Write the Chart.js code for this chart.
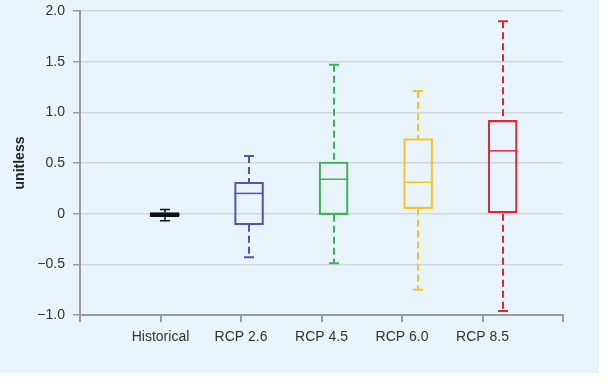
<!DOCTYPE html>
<html>
<head>
<meta charset="utf-8">
<script src="https://cdn.jsdelivr.net/npm/chart.js@4"></script>
<style>
  html, body { margin: 0; padding: 0; background: #ffffff; }
  #bg { position: absolute; left: 0; top: 0; width: 599px; height: 373px; background: #e8f4fc; }
  #wrap { position: absolute; left: 0; top: 0; width: 608px; height: 384px; }
</style>
</head>
<body>
<div id="bg"></div>
<div id="wrap"><canvas id="boxChart" width="608" height="384"></canvas></div>
<script>
// categories and box statistics
const categories = ["Historical", "RCP 2.6", "RCP 4.5", "RCP 6.0", "RCP 8.5"];
const boxPos = [1.05, 2.1, 3.15, 4.2, 5.25];
const whiskerLow = [-0.07, -0.43, -0.49, -0.75, -0.96];
const q1 = [-0.03, -0.11, -0.01, 0.05, 0.0];
const median = [-0.01, 0.20, 0.34, 0.31, 0.62];
const q3 = [0.01, 0.31, 0.51, 0.74, 0.92];
const whiskerHigh = [0.04, 0.57, 1.47, 1.21, 1.90];
const yTicks = [-1.0, -0.5, 0, 0.5, 1.0, 1.5, 2.0];

const colors = ["#111111", "#4c5aa8", "#3fb257", "#f6c52c", "#df2433"];

const fontFamily = "'Liberation Sans', Arial, sans-serif";

// whiskers, caps and medians
const boxExtras = {
    id: "boxExtras",
    afterDatasetsDraw(chart) {
        const ctx = chart.ctx;
        const x = chart.scales.x, y = chart.scales.y;
        const half = 14.5, cap = 5;
        ctx.save();
        boxPos.forEach((p, i) => {
            const cx = Math.round(x.getPixelForValue(p));
            const hist = i === 0;
            ctx.strokeStyle = colors[i];
            ctx.lineWidth = hist ? 1.5 : 2;
            // whiskers
            ctx.setLineDash(hist ? [] : [7, 4]);
            ctx.beginPath();
            ctx.moveTo(cx, y.getPixelForValue(whiskerHigh[i]));
            ctx.lineTo(cx, y.getPixelForValue(q3[i]));
            ctx.moveTo(cx, y.getPixelForValue(q1[i]));
            ctx.lineTo(cx, y.getPixelForValue(whiskerLow[i]));
            ctx.stroke();
            // caps
            ctx.setLineDash([]);
            ctx.beginPath();
            [whiskerHigh[i], whiskerLow[i]].forEach(v => {
                const py = y.getPixelForValue(v);
                ctx.moveTo(cx - cap, py);
                ctx.lineTo(cx + cap, py);
            });
            ctx.stroke();
            // median
            ctx.lineWidth = hist ? 2 : 1.5;
            ctx.beginPath();
            const my = y.getPixelForValue(median[i]);
            ctx.moveTo(cx - half, my);
            ctx.lineTo(cx + half, my);
            ctx.stroke();
        });
        ctx.restore();
    }
};

new Chart(document.getElementById("boxChart"), {
    type: "bar",
    data: {
        datasets: [{
            data: boxPos.map((p, i) => ({ x: p, y: [q1[i], q3[i]] })),
            backgroundColor: "rgba(0,0,0,0)",
            borderColor: colors,
            borderWidth: [3, 1.5, 1.5, 1.5, 1.5],
            borderSkipped: false,
            barThickness: 29
        }]
    },
    options: {
        responsive: false,
        animation: false,
        layout: { padding: { left: 0, right: 45, top: 11, bottom: 0 } },
        plugins: { legend: { display: false }, tooltip: { enabled: false } },
        scales: {
            x: {
                type: "linear",
                min: 0,
                max: 6,
                offset: false,
                afterBuildTicks: s => { s.ticks = [0, 1, 2, 3, 4, 5, 6].map(v => ({ value: v })); },
                afterFit: s => { s.height = 69; },
                ticks: {
                    callback: v => categories[v - 1] || "",
                    color: "#333333",
                    font: { family: fontFamily, size: 14 },
                    maxRotation: 0,
                    padding: 7
                },
                grid: { offset: false, drawOnChartArea: false, drawTicks: true, tickLength: 7, tickColor: "#9a9a9a", lineWidth: 2 },
                border: { color: "#9a9a9a", width: 2 }
            },
            y: {
                min: -1.0,
                max: 2.0,
                afterBuildTicks: s => { s.ticks = yTicks.map(v => ({ value: v })); },
                afterFit: s => { s.width = 80; s.paddingTop = 0; s.paddingBottom = 0; },
                title: {
                    display: true,
                    text: "unitless",
                    color: "#222222",
                    font: { family: fontFamily, size: 14, weight: "bold" },
                    padding: { top: 12, bottom: 0 }
                },
                ticks: {
                    callback: v => v === 0 ? "0" : (v < 0 ? "\u2212" : "") + Math.abs(v).toFixed(1),
                    color: "#333333",
                    font: { family: fontFamily, size: 14 },
                    padding: 8
                },
                grid: { color: "#d3d7db", lineWidth: 1.5, tickLength: 7, tickColor: "#9a9a9a" },
                border: { color: "#9a9a9a", width: 2 }
            }
        }
    },
    plugins: [boxExtras]
});
</script>
</body>
</html>
